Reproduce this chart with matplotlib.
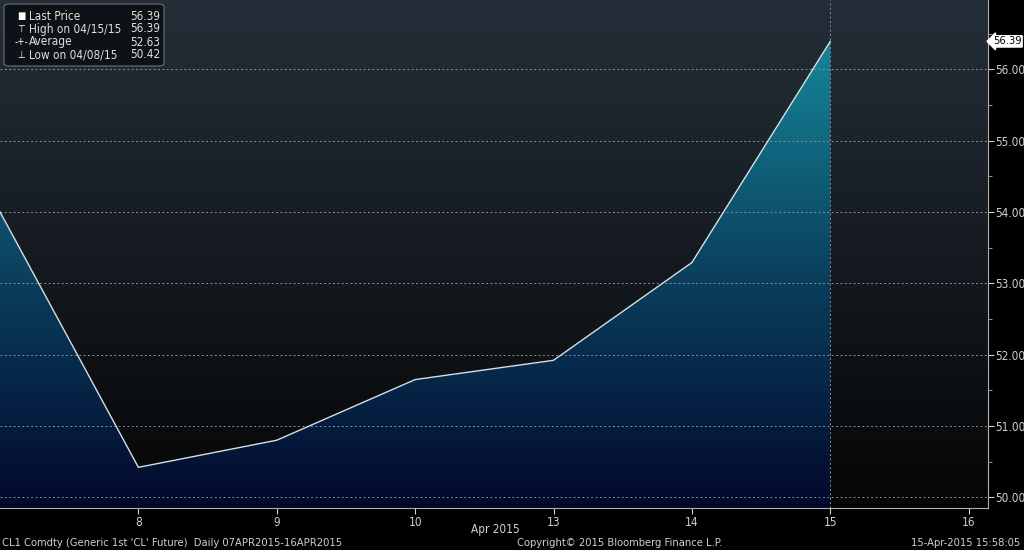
import numpy as np
import matplotlib
matplotlib.use("Agg")
from matplotlib import pyplot as plt
from matplotlib.colors import LinearSegmentedColormap
from matplotlib.patches import Polygon, FancyBboxPatch

plt.rcParams['font.family'] = ['DejaVu Sans']
plt.rcParams['font.stretch'] = 'condensed'

# data
days = ['7', '8', '9', '10', '13', '14', '15']
prices = [54.00, 50.42, 50.80, 51.65, 51.92, 53.29, 56.39]
tick_days = ['8', '9', '10', '13', '14', '15', '16']
y_ticks = [50.0, 51.0, 52.0, 53.0, 54.0, 55.0, 56.0]
legend_rows = [('Last Price', '56.39'), ('High on 04/15/15', '56.39'),
               ('Average', '52.63'), ('Low on 04/08/15', '50.42')]

YMIN, YMAX = 49.85, 56.97
XMAX = 7.14

fig = plt.figure(figsize=(10.24, 5.5), dpi=100, facecolor='black')
ax = fig.add_axes([0, 42 / 550, 988 / 1024, 508 / 550])
ax.set_facecolor('black')

# background gradient (dark slate at top -> black at bottom)
bg = LinearSegmentedColormap.from_list('bg', ['#050505', '#0f1418', '#1a2128', '#252e38'])
grad = np.linspace(0, 1, 256).reshape(-1, 1)
ax.imshow(grad, cmap=bg, aspect='auto', origin='lower',
          extent=[0, XMAX, YMIN, YMAX], zorder=0)

# gradient under the line, colour tied to price level
x = np.arange(len(prices))
span = 56.6 - YMIN
stops = [(49.85, '#02072a'), (50.0, '#030b2d'), (51.0, '#051c3e'), (52.0, '#072d4e'),
         (53.0, '#0a3e5c'), (54.0, '#0d526e'), (55.0, '#116980'), (56.0, '#147d91'),
         (56.6, '#1a8c9e')]
fill_cm = LinearSegmentedColormap.from_list(
    'fill', [((v - YMIN) / span, c) for v, c in stops])
im = ax.imshow(grad, cmap=fill_cm, aspect='auto', origin='lower',
               extent=[0, XMAX, YMIN, 56.6], zorder=1)
verts = [(x[0], YMIN)] + list(zip(x, prices)) + [(x[-1], YMIN)]
poly = Polygon(verts, closed=True, transform=ax.transData, facecolor='none', edgecolor='none')
ax.add_patch(poly)
im.set_clip_path(poly)

ax.plot(x, prices, color='#d8dde2', lw=1.0, zorder=3)

# grid
for yv in y_ticks:
    ax.axhline(yv, color='#8a9096', lw=0.7, ls=(0, (2, 2.5)), zorder=2)
ax.axvline(x[-1], color='#8a9096', lw=0.7, ls=(0, (2, 2.5)), zorder=2)

ax.set_xlim(0, XMAX)
ax.set_ylim(YMIN, YMAX)

# axes styling
for s in ['top', 'left']:
    ax.spines[s].set_visible(False)
ax.spines['right'].set_color('#b0b0b0')
ax.spines['bottom'].set_color('#b0b0b0')
ax.yaxis.tick_right()
ax.set_yticks(y_ticks)
ax.set_yticklabels(['%.2f' % v for v in y_ticks])
ax.set_yticks(np.arange(50.5, 56.6, 1.0), minor=True)
ax.tick_params(axis='y', which='major', colors='#d0d0d0', labelsize=8.5, length=4, direction='out', pad=1)
ax.tick_params(axis='y', which='minor', colors='#b0b0b0', length=3, direction='out')
ax.set_xticks(np.arange(1, 8))
ax.set_xticklabels(tick_days)
ax.tick_params(axis='x', colors='#d0d0d0', labelsize=8.5, length=4, direction='out', pad=2)

# last price tag
ax.annotate('56.39', xy=(XMAX, 56.39), xycoords='data', xytext=(3.5, 0), textcoords='offset points',
            va='center', ha='left', fontsize=8, color='black', annotation_clip=False,
            bbox=dict(boxstyle='larrow,pad=0.06', fc='white', ec='white'))

# legend box
fig.patches.append(FancyBboxPatch((4 / 1024, 484 / 550), 160 / 1024, 62 / 550,
                                  boxstyle='round,pad=0,rounding_size=0.005',
                                  transform=fig.transFigure, fc='#0d1216', ec='#6a7075', lw=0.8))
icons = ['\u25a0', '\u22a4', '-+-', '\u22a5']
for i, (name, val) in enumerate(legend_rows):
    yy = (550 - 16 - i * 13) / 550
    fig.text(21 / 1024, yy, icons[i], color='white', fontsize=7, va='center', ha='center')
    fig.text(29 / 1024, yy, name, color='#e0e0e0', fontsize=8.5, va='center')
    fig.text(160 / 1024, yy, val, color='#e0e0e0', fontsize=8.5, va='center', ha='right')

# footer
fig.text(495 / 1024, 20 / 550, 'Apr 2015', color='#d0d0d0', fontsize=8.5, ha='center', va='center')
fig.text(2 / 1024, 7 / 550, "CL1 Comdty (Generic 1st 'CL' Future)  Daily 07APR2015-16APR2015",
         color='#d0d0d0', fontsize=8, ha='left', va='center')
fig.text(620 / 1024, 7 / 550, 'Copyright\u00a9 2015 Bloomberg Finance L.P.',
         color='#d0d0d0', fontsize=8, ha='center', va='center')
fig.text(1020 / 1024, 7 / 550, '15-Apr-2015 15:58:05',
         color='#d0d0d0', fontsize=8, ha='right', va='center')

fig.savefig('out.png', dpi=100, facecolor='black')
